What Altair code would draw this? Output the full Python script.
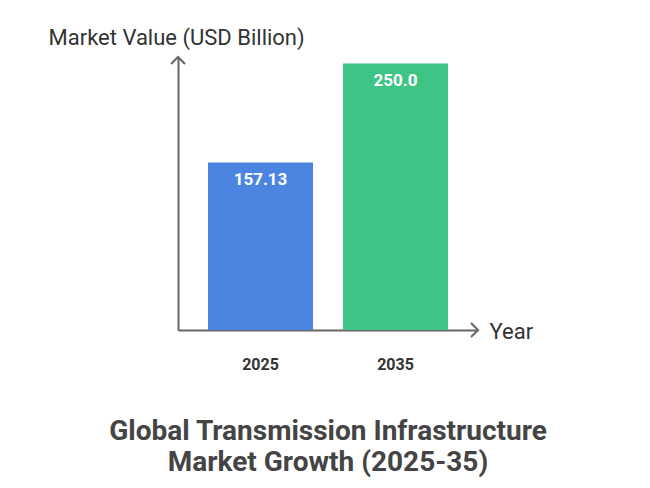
import altair as alt
import pandas as pd

years = ["2025", "2035"]
values = [157.13, 250.0]
labels = ["157.13", "250.0"]
colors = ["#4C85E1", "#3EC485"]

df = pd.DataFrame({"year": years, "value": values, "label": labels})

FONT = "Roboto"
AX = "#666666"

x = alt.X("year:N", sort=years,
          scale=alt.Scale(paddingInner=0.2222, paddingOuter=0.2222),
          axis=alt.Axis(title="Year", titleAngle=0, titleAlign="left", titleBaseline="middle",
                        titleX=311, titleY=1, titleFont=FONT, titleFontSize=22,
                        titleFontWeight="normal", titleColor="#333333",
                        labelAngle=0, labelFont=FONT, labelFontSize=16, labelFontWeight="bold",
                        labelColor="#333333", labelPadding=26, ticks=False,
                        domainColor=AX, domainWidth=2))
y = alt.Y("value:Q", scale=alt.Scale(domain=[0, 256], nice=False),
          axis=alt.Axis(title="Market Value (USD Billion)", titleAngle=0, titleAlign="left",
                        titleBaseline="middle", titleX=-130, titleY=-20, titleFont=FONT,
                        titleFontSize=22, titleFontWeight="normal", titleColor="#333333",
                        labels=False, ticks=False, grid=False, domainColor=AX, domainWidth=2))

base = alt.Chart(df)

bars = base.mark_bar(cornerRadius=0).encode(
    x=x, y=y,
    color=alt.Color("year:N", scale=alt.Scale(domain=years, range=colors), legend=None),
)

text = base.mark_text(color="white", font=FONT, fontSize=17, fontWeight="bold",
                      baseline="middle", dy=18).encode(x=x, y=y, text="label:N")

arrow_df = pd.DataFrame({"a": [0]})
up_arrow = alt.Chart(arrow_df).mark_point(
    shape="M-1,1L0,0L1,1", filled=False, stroke=AX, strokeWidth=2, size=196, opacity=1
).encode(x=alt.value(0), y=alt.value(0))
right_arrow = alt.Chart(arrow_df).mark_point(
    shape="M-1,-1L0,0L-1,1", filled=False, stroke=AX, strokeWidth=2, size=196, opacity=1
).encode(x=alt.value(300), y=alt.value(273))

chart = alt.layer(bars, text, up_arrow, right_arrow).properties(
    width=300, height=273,
    autosize=alt.AutoSizeParams(type="none"),
    padding={"left": 170, "top": 49, "right": 164, "bottom": 158},
    title=alt.TitleParams(
        text=["Global Transmission Infrastructure", "Market Growth (2025-35)"],
        orient="bottom", anchor="middle", font=FONT, fontSize=28, fontWeight="bold",
        color="#444444", lineHeight=31, offset=46, frame="group",
    ),
).configure(background="white").configure_view(strokeWidth=0, stroke=None)

chart.save("out.html", embed_options={"renderer": "svg", "actions": False})
